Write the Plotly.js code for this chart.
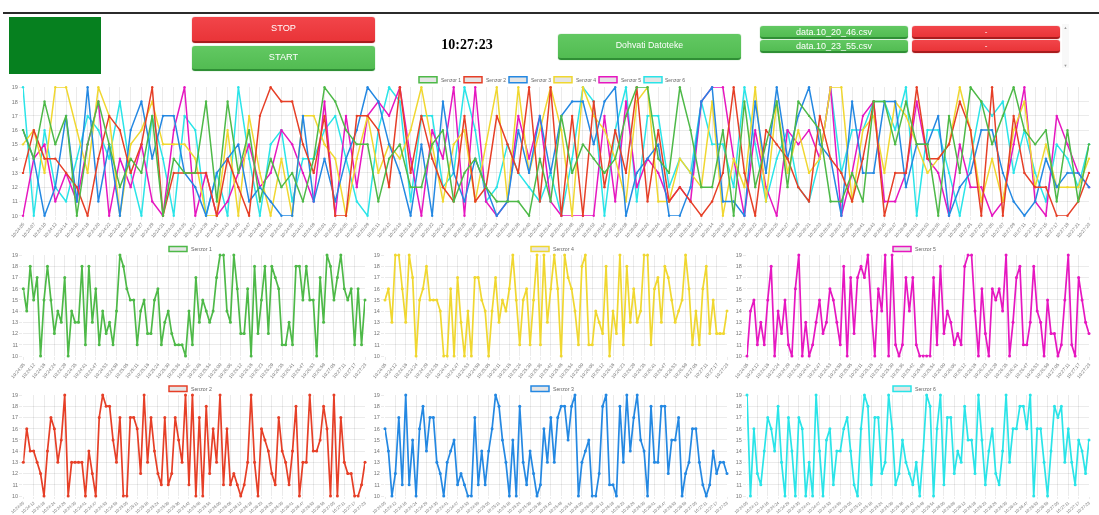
<!DOCTYPE html>
<html>
<head>
<meta charset="utf-8">
<script src="https://cdn.plot.ly/plotly-3.0.1.min.js"></script>
<style>
html,body{margin:0;padding:0;background:#fff;overflow:hidden}
#page{position:relative;width:1099px;height:515px;font-family:"Liberation Sans",Arial,sans-serif;filter:blur(0.4px)}
#chart{position:absolute;left:0;top:0;width:1099px;height:515px}
.ui{position:absolute;box-sizing:border-box;display:flex;align-items:center;justify-content:center;color:#fff;z-index:2}
.btn{border-radius:3px;font-size:9.2px;padding-bottom:2px}
.red{background:linear-gradient(#f2454a,#e93438);border-bottom:2px solid #a81c1e;box-shadow:0 0 1px #c33}
.green{background:linear-gradient(#62c862,#52bc52);border-bottom:2px solid #2f8f35;box-shadow:0 0 1px #5a5}
.arrow{color:#999;font-size:4px}
</style>
</head>
<body>
<div id="page">
  <div id="chart"></div>
  <div class="ui" style="left:3px;top:12px;width:1096px;height:1.6px;background:#2b2b2b"></div>
  <div class="ui" style="left:9px;top:17px;width:92px;height:57px;background:#06801f"></div>
  <div class="ui btn red" style="left:192px;top:17px;width:183px;height:26px">STOP</div>
  <div class="ui btn green" style="left:192px;top:46px;width:183px;height:25px">START</div>
  <div class="ui" style="left:417px;top:35px;width:100px;height:20px;color:#000;font:bold 14px 'Liberation Serif',serif">10:27:23</div>
  <div class="ui btn green" style="left:558px;top:34px;width:183px;height:26px;font-size:8.8px">Dohvati Datoteke</div>
  <div class="ui btn green" style="left:760px;top:26px;width:148px;height:13px;font-size:9px;padding:0">data.10_20_46.csv</div>
  <div class="ui btn green" style="left:760px;top:40px;width:148px;height:13px;font-size:9px;padding:0">data.10_23_55.csv</div>
  <div class="ui btn red" style="left:912px;top:26px;width:148px;height:13px;font-size:8px;padding:0">-</div>
  <div class="ui btn red" style="left:912px;top:40px;width:148px;height:13px;font-size:8px;padding:0">-</div>
  <div class="ui" style="left:1062px;top:24px;width:7px;height:44px;background:#f8f8f8"></div>
  <div class="ui arrow" style="left:1062px;top:24px;width:7px;height:6px">▲</div>
  <div class="ui arrow" style="left:1062px;top:62px;width:7px;height:6px">▼</div>
</div>
<script>
const timeLabels = ["10:24:05","10:24:07","10:24:10","10:24:12","10:24:14","10:24:16","10:24:18","10:24:20","10:24:22","10:24:24",
"10:24:25","10:24:27","10:24:29","10:24:31","10:24:33","10:24:35","10:24:37","10:24:39","10:24:41","10:24:43",
"10:24:45","10:24:47","10:24:49","10:24:51","10:24:53","10:24:55","10:24:57","10:24:59","10:25:01","10:25:03",
"10:25:05","10:25:07","10:25:09","10:25:11","10:25:13","10:25:16","10:25:18","10:25:20","10:25:22","10:25:24",
"10:25:26","10:25:28","10:25:30","10:25:32","10:25:34","10:25:36","10:25:38","10:25:40","10:25:42","10:25:44",
"10:25:46","10:25:48","10:25:50","10:25:52","10:25:54","10:25:56","10:25:58","10:26:00","10:26:02","10:26:04",
"10:26:06","10:26:08","10:26:10","10:26:12","10:26:14","10:26:16","10:26:18","10:26:20","10:26:22","10:26:23",
"10:26:25","10:26:27","10:26:29","10:26:31","10:26:33","10:26:35","10:26:37","10:26:39","10:26:41","10:26:43",
"10:26:45","10:26:47","10:26:49","10:26:51","10:26:53","10:26:55","10:26:57","10:26:59","10:27:01","10:27:03",
"10:27:05","10:27:07","10:27:09","10:27:11","10:27:13","10:27:15","10:27:17","10:27:19","10:27:21","10:27:23"];

const senzor1 = [16,14,18,15,17,10,15,18,15,12, 14,13,17,10,14,13,13,18,11,18, 13,16,11,14,12,13,11,14,19,18,
16,15,15,11,14,15,12,12,15,16, 11,13,14,12,11,11,11,10,14,11, 17,13,15,14,13,14,17,19,19,14,
13,19,16,12,12,16,10,18,12,15, 18,12,18,17,16,11,11,13,11,18, 18,15,18,15,15,10,17,13,19,18,
15,17,19,16,15,16,11,16,11,15];
const senzor2 = [13,16,14,14,13,12,10,14,17,16, 13,15,19,10,13,13,13,13,10,14, 12,10,17,19,18,18,15,13,17,10,
10,17,17,16,12,19,13,17,14,12, 11,17,11,12,17,15,13,19,11,19, 10,17,10,18,12,16,13,19,11,16,
11,12,11,10,11,13,19,13,10,16, 15,14,12,11,17,14,13,11,14,18, 10,13,13,19,14,14,15,18,16,10,
19,10,17,13,12,12,10,10,11,13];
const senzor3 = [16,14,10,12,17,11,19,11,15,10, 16,18,14,17,17,13,12,10,13,14, 15,11,12,11,10,10,17,11,14,11,
14,16,19,18,15,13,10,15,10,18, 13,11,14,12,10,11,16,13,17,13, 17,18,18,15,18,19,10,13,14,15,
10,10,12,18,19,11,11,10,18,13, 19,14,17,19,15,14,10,18,13,13, 18,18,12,15,15,17,10,12,13,16,
16,13,11,10,11,14,12,13,13,12];
const senzor4 = [15,16,13,19,19,16,13,19,17,10, 15,16,18,15,15,15,14,10,10,16, 10,17,13,10,14,10,17,17,15,14,
10,14,17,13,15,14,16,19,15,11, 15,16,11,15,19,11,19,13,16,19, 16,10,19,17,16,14,11,18,19,11,
11,14,13,12,18,10,14,12,19,11, 18,13,16,13,14,19,19,11,16,17, 13,18,17,15,13,14,15,19,16,11,
14,11,16,18,12,15,12,12,12,14];
const senzor5 = [10,14,15,11,13,11,15,18,10,14, 12,15,11,10,16,19,10,13,10,11, 13,15,12,13,16,15,13,11,18,10,
17,12,17,18,17,19,14,10,16,14, 19,10,19,11,10,11,17,14,17,11, 10,10,10,10,17,11,18,12,14,13,
11,12,11,18,19,19,14,10,16,12, 10,16,15,16,14,19,10,13,17,18, 11,11,13,18,14,13,10,15,12,12,
10,11,15,19,11,10,17,15,13,12];
const senzor6 = [19,10,16,12,11,14,17,16,14,18, 13,10,17,14,10,17,16,10,13,10, 19,14,10,15,16,11,14,14,16,17,
14,11,10,16,19,18,11,17,17,12, 13,19,16,11,12,15,13,12,11,13, 10,14,19,18,10,16,19,11,17,17,
12,14,13,18,15,15,12,19,15,11, 14,16,12,11,14,19,13,16,16,18, 18,16,19,10,16,16,13,10,14,18,
17,18,13,16,13,11,15,14,12,15];

const seriesNames = ["Senzor 1","Senzor 2","Senzor 3","Senzor 4","Senzor 5","Senzor 6"];
const seriesValues = [senzor1,senzor2,senzor3,senzor4,senzor5,senzor6];
const seriesColors = ["#4eb948","#e63f27","#2488e2","#f0d730","#e617c0","#2ae4e8"];

const W = 1099, H = 515;
const fx = p => p / W, fy = p => 1 - p / H;
const gridCol = "rgba(0,0,0,0.08)", tickCol = "#777";

const data = [], shapes = [], annotations = [];
const layout = {
  width: W, height: H, margin: {l:0,r:0,t:0,b:0}, paper_bgcolor:"#fff", plot_bgcolor:"#fff",
  showlegend:false, hovermode:false, font:{family:"Liberation Sans, Arial, sans-serif"}
};

function addAxes(n, xL, xR, yT, yB, dtick, tickSize, angle, tickLen){
  const xk = n===1?"xaxis":"xaxis"+n, yk = n===1?"yaxis":"yaxis"+n;
  layout[xk] = {domain:[fx(xL),fx(xR)], anchor:"y"+(n===1?"":n), type:"category", categoryorder:"array",
    categoryarray:timeLabels, range:[0,timeLabels.length-1], tickmode:"linear", tick0:0, dtick:dtick,
    tickangle:angle, tickfont:{size:tickSize,color:tickCol}, showgrid:true, gridcolor:gridCol, gridwidth:1,
    zeroline:false, showline:false, ticks:"outside", ticklen:tickLen, tickcolor:gridCol, tickwidth:1};
  layout[yk] = {domain:[fy(yB),fy(yT)], anchor:"x"+(n===1?"":n), range:[10,19], tickmode:"linear", tick0:10, dtick:1,
    tickfont:{size:5.5,color:tickCol}, showgrid:true, gridcolor:gridCol, gridwidth:1,
    zeroline:false, showline:false, ticks:"outside", ticklen:3, tickcolor:gridCol, tickwidth:1};
}
function addTrace(n, idx, lw, ms){
  data.push({type:"scatter", mode:"lines+markers", name:seriesNames[idx], x:timeLabels, y:seriesValues[idx],
    xaxis:"x"+(n===1?"":n), yaxis:"y"+(n===1?"":n), cliponaxis:false,
    line:{color:seriesColors[idx],width:lw,shape:"linear"},
    marker:{color:seriesColors[idx],size:ms,line:{width:0}}});
}
function addLegendItem(idx, x0, y0, y1, fs){
  shapes.push({type:"rect",xref:"paper",yref:"paper",x0:fx(x0),x1:fx(x0+18),y0:fy(y1),y1:fy(y0),
    line:{color:seriesColors[idx],width:1.5},fillcolor:"rgba(0,0,0,0.1)"});
  annotations.push({xref:"paper",yref:"paper",x:fx(x0+20.5),y:fy((y0+y1)/2),xanchor:"left",yanchor:"middle",
    showarrow:false,text:seriesNames[idx],font:{size:fs,color:"#666"},borderpad:0});
}

// main chart, every sensor; first dataset drawn last
addAxes(1, 23, 1089, 87.3, 215.7, 1, 4.6, -50, 3);
[5,4,3,2,1,0].forEach(i => addTrace(1,i,1.5,2.4));
[419,464,509,554,599,644].forEach((x,i) => addLegendItem(i,x,76.8,82.8,5));

// small charts
const smallCharts = [
  [0, 23.3,365,255,356, 169,246.5,251.5, 4.7,-50,3],
  [3, 385, 727,255,356, 531,246.5,251.5, 4.7,-50,3],
  [4, 747,1089,255,356, 893,246.5,251.5, 4.7,-50,3],
  [1, 23.3,365,395,496, 169,386,391.5, 4.1,-40,2],
  [2, 385, 727,395,496, 531,386,391.5, 4.1,-40,2],
  [5, 747,1089,395,496, 893,386,391.5, 4.1,-40,2]
];
smallCharts.forEach((c,k) => {
  const n = k+2;
  addAxes(n, c[1],c[2],c[3],c[4], 3, c[8], c[9], c[10]);
  addTrace(n, c[0], 1.7, 3);
  addLegendItem(c[0], c[5], c[6], c[7], 5.2);
});
layout.shapes = shapes;
layout.annotations = annotations;
Plotly.newPlot("chart", data, layout, {displayModeBar:false, staticPlot:true});
</script>
</body>
</html>
